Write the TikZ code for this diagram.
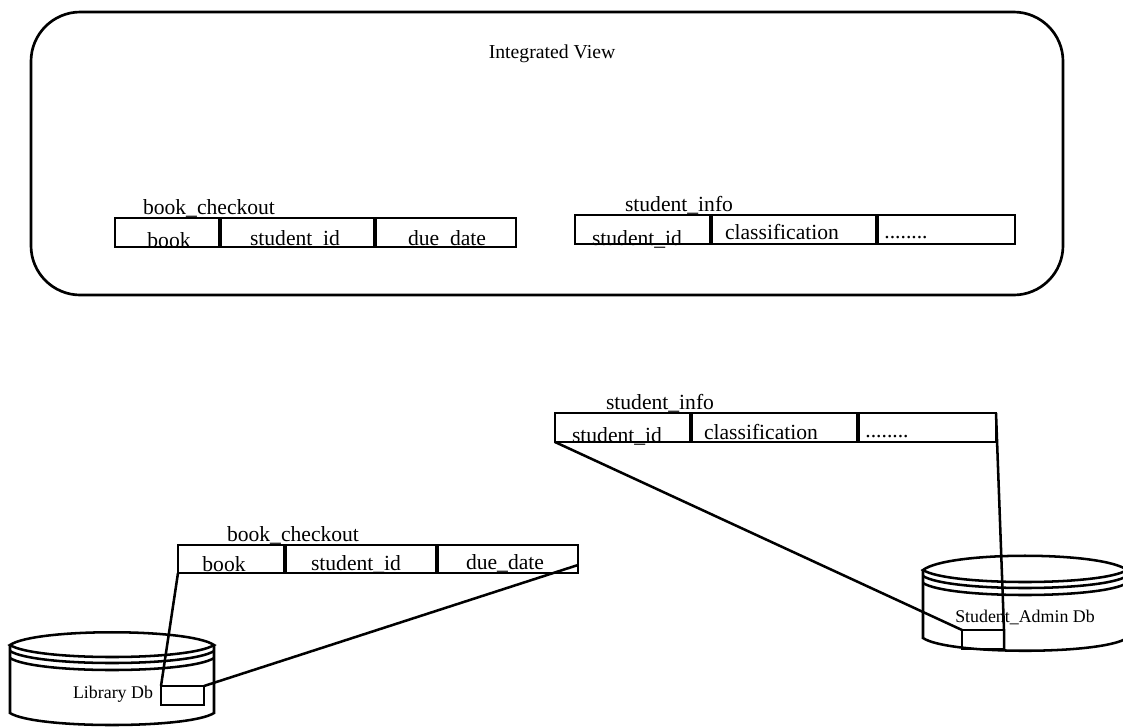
\documentclass[tikz,border=0pt]{standalone}
\usepackage{fontspec}
\setmainfont{Liberation Serif}
\tikzset{
  x=0.75pt,y=-0.75pt,
  line/.style={draw=black,line width=1.9pt},
  cell/.style={draw=black,line width=2.1pt,anchor=north west,inner sep=0pt,outer sep=0pt,fill=white},
  divider/.style={draw=black,line width=3pt},
  lbl/.style={inner sep=0pt,font=\fontsize{16.2}{17}\selectfont,anchor=base},
  titlelbl/.style={inner sep=0pt,font=\fontsize{14.8}{17}\selectfont,anchor=base},
  small/.style={inner sep=0pt,font=\fontsize{13.4}{15}\selectfont,anchor=base},
}
\newcommand{\celltable}[7]{%
 \node[cell,minimum width=(#3-#2)*0.75pt,minimum height=#7*0.75pt] (#1a) at (#2,#6) {};
 \node[cell,minimum width=(#4-#3)*0.75pt,minimum height=#7*0.75pt] (#1b) at (#3,#6) {};
 \node[cell,minimum width=(#5-#4)*0.75pt,minimum height=#7*0.75pt] (#1c) at (#4,#6) {};
 \draw[divider] (#1a.north east) -- (#1a.south east);
 \draw[divider] (#1b.north east) -- (#1b.south east);
}
\newcommand{\drum}[7]{%
 \draw[line] (#1,#4) .. controls (#1+25,#3) and (#2-25,#3) .. (#2,#4)
   .. controls (#2-25,#5) and (#1+25,#5) .. cycle;
 \draw[line] (#1,#4+6) .. controls (#1+25,#5+6) and (#2-25,#5+6) .. (#2,#4+6);
 \draw[line] (#1,#4+13) .. controls (#1+25,#5+13) and (#2-25,#5+13) .. (#2,#4+13);
 \draw[line] (#1,#4) -- (#1,#6) .. controls (#1+25,#7) and (#2-25,#7) .. (#2,#6) -- (#2,#4);
}
\begin{document}
\begin{tikzpicture}
\useasboundingbox (0,0) rectangle (1123,726);
\fill[white] (0,0) rectangle (1123,726);
\draw[line width=2pt,rounded corners=37pt] (31,12) rectangle (1063,295);
\node[titlelbl] (title) at (552,58) {Integrated View};
\celltable{pa}{115}{220}{375}{516}{218}{29}
\node[lbl] (pan) at (209,214) {book\_checkout};
\node[lbl] (pa1) at (169,247) {book};
\node[lbl] (pa2) at (295,245) {student\_id};
\node[lbl] (pa3) at (447,245) {due\_date};
\celltable{pb}{575}{711}{877}{1015}{215}{29}
\node[lbl] (pbn) at (679,211) {student\_info};
\node[lbl] (pb1) at (637,245) {student\_id};
\node[lbl] (pb2) at (782,239) {classification};
\node[lbl] (pb3) at (906,238) {........};
\drum{10}{214}{628}{645}{661}{713}{729}
\node[small] (libdb) at (113,698) {Library Db};
\drum{923}{1127}{551}{570}{586}{638}{655}
\node[small] (stdb) at (1025,622) {Student\_Admin Db};
\node[cell,minimum width=43*0.75pt,minimum height=19*0.75pt,fill=none] (libbox) at (161,686) {};
\node[cell,minimum width=42*0.75pt,minimum height=19*0.75pt,fill=none] (stbox) at (962,630) {};
\celltable{ma}{555}{691}{858}{996}{413}{29}
\node[lbl] (man) at (660,409) {student\_info};
\node[lbl] (ma1) at (617,442) {student\_id};
\node[lbl] (ma2) at (761,439) {classification};
\node[lbl] (ma3) at (887,437) {........};
\celltable{la}{178}{285}{437}{578}{545}{28}
\node[lbl] (lan) at (293,541) {book\_checkout};
\node[lbl] (la1) at (224,571) {book};
\node[lbl] (la2) at (356,570) {student\_id};
\node[lbl] (la3) at (505,569) {due\_date};
\draw[line] (laa.south west) -- (libbox.north west);
\draw[line] (lac.south east) ++(0,-8) -- (libbox.north east);
\draw[line] (maa.south west) -- (stbox.north west);
\draw[line] (mac.north east) -- (stbox.north east) -- (stbox.south east);
\end{tikzpicture}
\end{document}
